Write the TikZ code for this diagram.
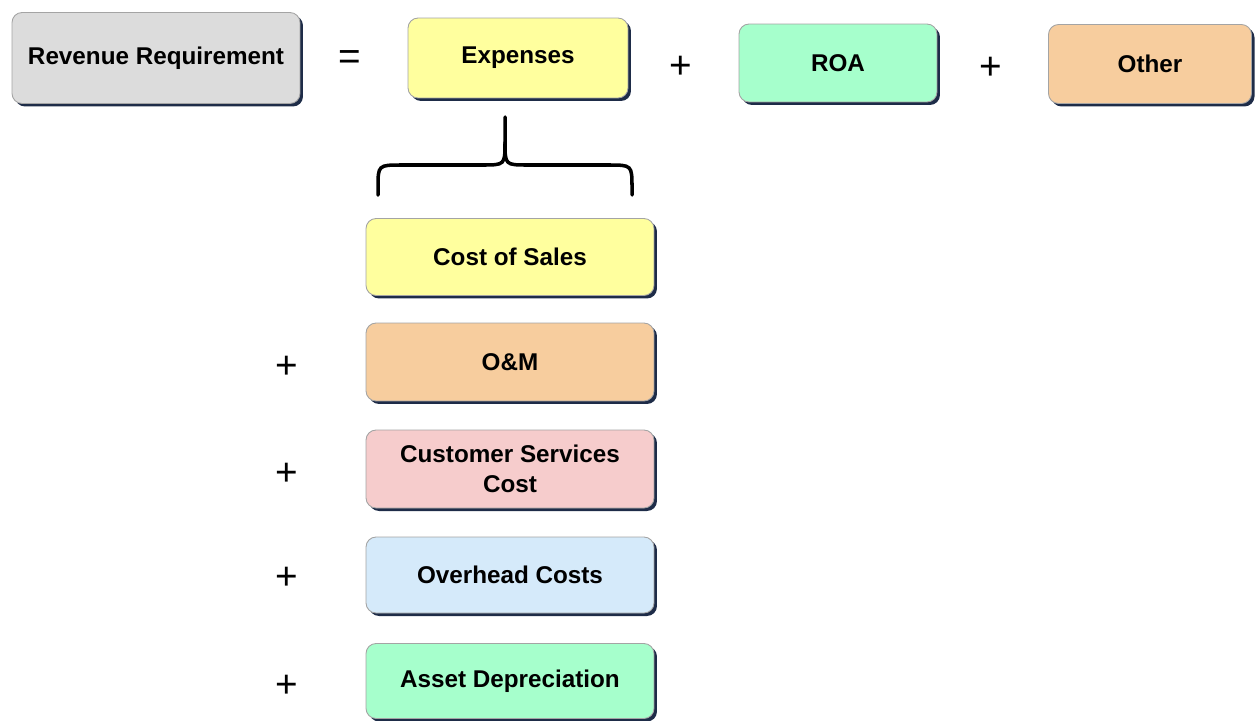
\documentclass[tikz,border=0pt]{standalone}
\usepackage{fontspec}
\setmainfont{Liberation Sans}
\usepackage{tikz}
\usetikzlibrary{shadows}
\usepackage{xcolor}
\definecolor{revgray}{HTML}{DCDCDC}
\definecolor{expyellow}{HTML}{FFFF9E}
\definecolor{roagreen}{HTML}{A6FFCC}
\definecolor{othorange}{HTML}{F7CD9E}
\definecolor{custpink}{HTML}{F6CCCC}
\definecolor{ovhblue}{HTML}{D5EAFA}
\definecolor{boxedge}{HTML}{A4A4A4}
\definecolor{shadenavy}{HTML}{1E2C48}

\tikzset{
  blockbox/.style={draw=boxedge, line width=0.5pt, rounded corners=0.2cm,
    font=\fontsize{13.8}{17}\selectfont\bfseries, align=center,
    inner sep=0pt,
    drop shadow={shadow xshift=0.06cm, shadow yshift=-0.06cm,
                 fill=shadenavy, opacity=1}},
  opsign/.style={font=\fontsize{22}{22}\selectfont, inner sep=0pt},
  bracepart/.style={line width=2pt, line cap=round}
}

\begin{document}
\begin{tikzpicture}[x=0.02cm, y=-0.02cm]
    \useasboundingbox (0,0) rectangle (1256,720);
    % top row: the equation
    \node[blockbox, fill=revgray, minimum width=5.76cm, minimum height=1.82cm] (rev) at (156,58) {Revenue Requirement};
    \node[opsign] (eq) at (350,60) {=};
    \node[blockbox, fill=expyellow, minimum width=4.4cm, minimum height=1.6cm] (exp) at (518,58) {Expenses};
    \node[opsign] (plusa) at (681,67) {+};
    \node[blockbox, fill=roagreen, minimum width=3.96cm, minimum height=1.56cm] (roa) at (838,63) {ROA};
    \node[opsign] (plusb) at (991,68) {+};
    \node[blockbox, fill=othorange, minimum width=4.06cm, minimum height=1.58cm] (oth) at (1150,64) {Other};

    % brace under Expenses
    \draw[bracepart]
      (378,195) -- (378,188) .. controls (378,165) .. (402,165) -- (482,165)
      .. controls (505,165) .. (505,142) -- (505,117);
    \draw[bracepart]
      (632,195) -- (632,188) .. controls (632,165) .. (608,165) -- (528,165)
      .. controls (505,165) .. (505,142);

    % expense breakdown
    \node[blockbox, fill=expyellow, minimum width=5.76cm, minimum height=1.54cm] (cos) at (510,257) {Cost of Sales};
    \node[blockbox, fill=othorange, minimum width=5.76cm, minimum height=1.56cm] (om) at (510,362) {O\&M};
    \node[blockbox, fill=custpink, minimum width=5.76cm, minimum height=1.56cm] (cust) at (510,469) {Customer Services\\Cost};
    \node[blockbox, fill=ovhblue, minimum width=5.76cm, minimum height=1.52cm] (ovh) at (510,575) {Overhead Costs};
    \node[blockbox, fill=roagreen, minimum width=5.76cm, minimum height=1.5cm] (dep) at (510,681) {Asset Depreciation};

    \node[opsign] (plusc) at (287,367) {+};
    \node[opsign] (plusd) at (287,474) {+};
    \node[opsign] (pluse) at (287,578) {+};
    \node[opsign] (plusf) at (287,686) {+};
\end{tikzpicture}
\end{document}
